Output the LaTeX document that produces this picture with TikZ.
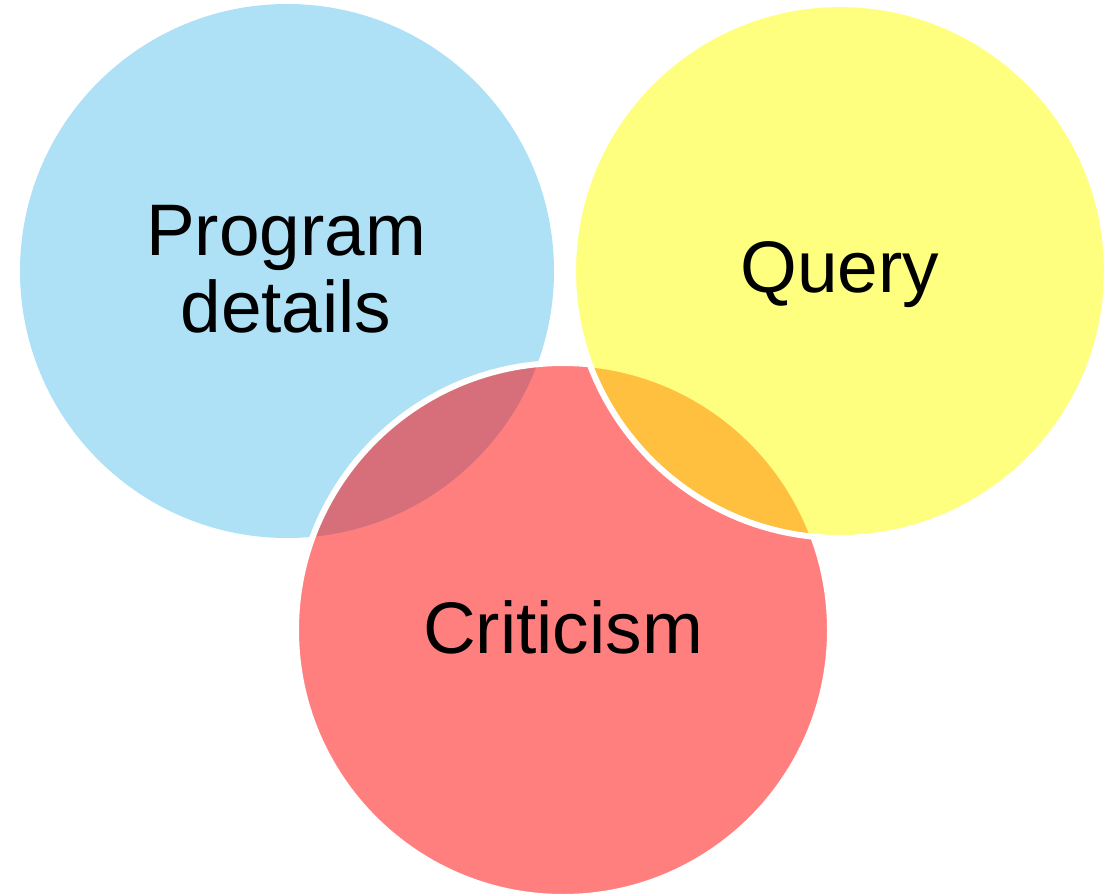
\documentclass[tikz,border=0pt]{standalone}
\usepackage{fontspec}
\setmainfont{Liberation Sans}
\usepackage{tikz}
\usetikzlibrary{calc}

\definecolor{vennblue}{RGB}{93,193,237}
\definecolor{vennred}{RGB}{255,0,0}
\definecolor{vennyellow}{RGB}{255,255,0}

\tikzset{
    venn/.style={circle, minimum size=534pt, inner sep=0pt, fill opacity=0.5},
    rim/.style={draw=white, line width=6pt},
    lbl/.style={font=\fontsize{73}{77}\selectfont, text=black, align=center}
}

\begin{document}
\begin{tikzpicture}[x=1pt,y=-1pt]
    \useasboundingbox (0,0) rectangle (1117,896);

    % Circles
    \node[venn, fill=vennblue] (prog) at (287,271) {};
    \node[venn, rim, fill=vennred] (crit) at (563,630) {};
    \node[venn, rim, fill=vennyellow] (query) at (840,271) {};

    % Labels
    \node[lbl, anchor=base] (progtxt) at (286,332) {Program\\details};
    \node[lbl, anchor=base] (querytxt) at (840,293) {Query};
    \node[lbl, anchor=base] (crittxt) at (563,653) {Criticism};
\end{tikzpicture}
\end{document}
